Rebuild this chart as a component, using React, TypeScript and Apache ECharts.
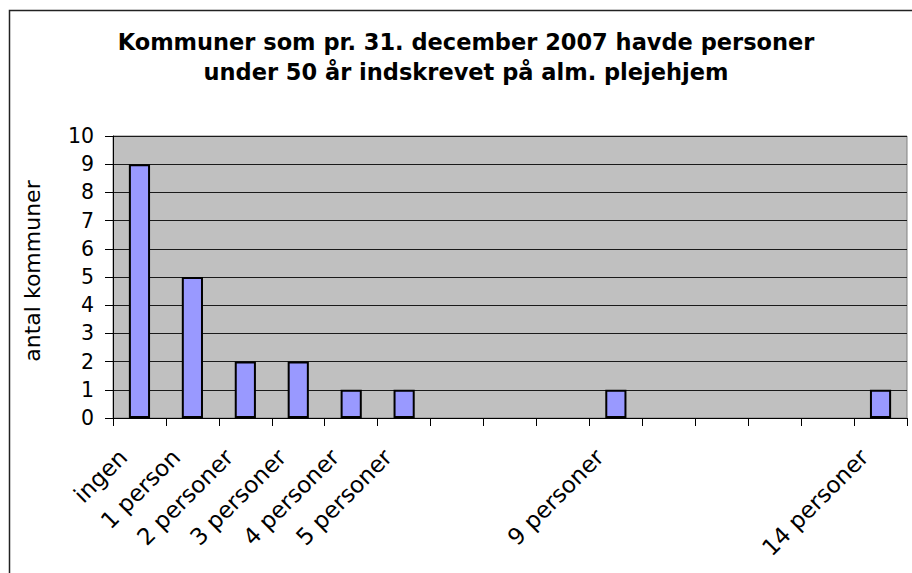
import React, { useEffect, useRef } from "react";
import * as echarts from "echarts";

const categories = [
  "ingen", "1 person", "2 personer", "3 personer", "4 personer", "5 personer",
  "", "", "", "9 personer", "", "", "", "", "14 personer",
];
const counts = [9, 5, 2, 2, 1, 1, 0, 0, 0, 1, 0, 0, 0, 0, 1];
const titleLines = [
  "Kommuner som pr. 31. december 2007 havde personer",
  "under 50 år indskrevet på alm. plejehjem",
];
const yAxisName = "antal kommuner";

const FONT = "'DejaVu Sans', Verdana, sans-serif";

export default function App() {
  const ref = useRef<HTMLDivElement>(null);
  useEffect(() => {
    if (!ref.current) return;
    const chart = echarts.init(ref.current, undefined, { renderer: "svg" });
    chart.setOption({
      animation: false,
      backgroundColor: "#ffffff",
      graphic: [
        {
          type: "rect",
          z: -10,
          silent: true,
          shape: { x: 9.5, y: 10.5, width: 1000, height: 1000 },
          style: { fill: "none", stroke: "#222", lineWidth: 1.5 },
        },
        {
          type: "text",
          x: 466,
          y: 27,
          style: {
            text: titleLines.join("\n"),
            textAlign: "center",
            textVerticalAlign: "top",
            fontFamily: FONT,
            fontWeight: "bold",
            fontSize: 22.5,
            lineHeight: 30,
            fill: "#000",
          },
        },
      ],
      grid: {
        left: 113,
        top: 136,
        width: 794,
        height: 282,
        show: true,
        backgroundColor: "#C0C0C0",
        borderColor: "#808080",
        borderWidth: 1,
      },
      xAxis: {
        type: "category",
        data: categories,
        boundaryGap: true,
        axisLine: { show: true, lineStyle: { color: "#000", width: 1 } },
        axisTick: { show: true, length: 8, lineStyle: { color: "#000" }, interval: 0 },
        axisLabel: {
          interval: 0,
          rotate: 45,
          margin: 19,
          padding: [0, 23, 0, 0],
          fontFamily: FONT,
          fontSize: 23,
          color: "#000",
        },
        splitLine: { show: false },
      },
      yAxis: {
        type: "value",
        min: 0,
        max: 10,
        interval: 1,
        name: yAxisName,
        nameLocation: "middle",
        nameRotate: 90,
        nameGap: 70,
        nameTextStyle: { fontFamily: FONT, fontSize: 22, color: "#000", padding: [0, 0, 0, 12] },
        axisLine: { show: true, lineStyle: { color: "#000", width: 1 } },
        axisTick: { show: true, length: 8, lineStyle: { color: "#000" } },
        axisLabel: { margin: 19, fontFamily: FONT, fontSize: 20.5, color: "#000" },
        splitLine: { show: true, lineStyle: { color: "#1a1a1a", width: 1 } },
      },
      series: [
        {
          type: "bar",
          data: counts.map((v) => (v === 0 ? null : v)),
          barWidth: "40%",
          itemStyle: { color: "#9999FF", borderColor: "#000", borderWidth: 2 },
        },
      ],
    });
    return () => chart.dispose();
  }, []);
  return (
    <div
      ref={ref}
      style={{ position: "fixed", left: 0, top: 0, width: 912, height: 573 }}
    />
  );
}
